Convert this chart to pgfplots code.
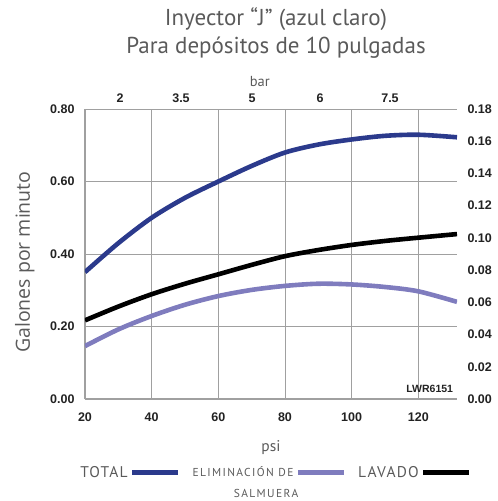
\documentclass[border=0pt]{standalone}
\usepackage{fontspec}
\setmainfont{Liberation Sans}
\newfontfamily\titlefont{PT Sans}
\newfontfamily\legfont[LetterSpace=8]{PT Sans}
\newfontfamily\legfontw[LetterSpace=12]{PT Sans}
\newfontfamily\labfont{Open Sans}
\usepackage{pgfplots}
\pgfplotsset{compat=1.18}
\definecolor{totalc}{HTML}{2B3A8C}
\definecolor{elimc}{HTML}{7F7CBE}
\definecolor{gridc}{HTML}{A0A0A0}
\definecolor{txtc}{HTML}{5A5A5A}
\definecolor{tickc}{HTML}{222222}
\begin{document}
\begin{tikzpicture}[x=1pt,y=1pt]
\path[use as bounding box] (-85,-102) rectangle (413,399);
\begin{axis}[
  at={(0,0)}, anchor=south west,
  scale only axis, width=372pt, height=290pt,
  xmin=20, xmax=131.6, ymin=0, ymax=0.8,
  xtick={20,40,60,80,100,120},
  ytick={0,0.2,0.4,0.6,0.8},
  grid=major, major grid style={gridc, line width=0.9pt},
  axis line style={gridc, line width=1.3pt},
  major tick length=0pt,
  tick label style={font=\fontsize{12.5}{12.5}\selectfont\bfseries, text=tickc},
  /pgf/number format/assume math mode=true,
  yticklabel style={/pgf/number format/fixed, /pgf/number format/fixed zerofill, /pgf/number format/precision=2, xshift=-7pt},
  xticklabel style={yshift=-10pt},
  axis y line*=left, axis x line*=bottom,
  xlabel={\titlefont\fontsize{15.5}{15.5}\selectfont psi},
  xlabel style={text=txtc, at={(axis description cs:0.5,0)}, anchor=north, yshift=-38pt},
  ylabel={\labfont\fontsize{19.5}{19.5}\selectfont Galones por minuto},
  ylabel style={text=txtc, at={(axis description cs:0,0.472)}, anchor=south, yshift=47pt},
  legend columns=3,
  legend plot pos=right,
  legend image code/.code={\draw[#1, line width=4.8pt] (0pt,0pt) -- (46pt,0pt);},
  legend style={draw=none, fill=none, at={(axis description cs:0.5,0)}, anchor=north, yshift=-65pt, xshift=4pt,
     inner sep=0pt, text=txtc,
     nodes={inner sep=2pt},
     /tikz/every even column/.append style={column sep=10pt}},
]
\addplot[totalc, line width=4.6pt, smooth] coordinates {
(20,0.350) (30,0.430) (40,0.500) (50,0.555) (60,0.600) (70,0.643) (80,0.680) (90,0.702) (100,0.716) (110,0.726) (120,0.729) (131.6,0.722)};
\addlegendentry{\legfont\fontsize{15.5}{15.5}\selectfont TOTAL}
\addplot[elimc, line width=4.6pt, smooth] coordinates {
(20,0.146) (30,0.192) (40,0.229) (50,0.260) (60,0.284) (70,0.301) (80,0.312) (90,0.318) (100,0.316) (110,0.309) (120,0.297) (131.6,0.268)};
\addlegendentry{\legfontw\fontsize{11.5}{11.5}\selectfont ELIMINACIÓN DE}
\addplot[black, line width=4.6pt, smooth] coordinates {
(20,0.217) (30,0.255) (40,0.289) (50,0.318) (60,0.344) (70,0.370) (80,0.394) (90,0.411) (100,0.425) (110,0.436) (120,0.445) (131.6,0.455)};
\addlegendentry{\legfont\fontsize{15.5}{15.5}\selectfont LAVADO}
\node[font=\fontsize{10.5}{10.5}\selectfont\bfseries, text=tickc, anchor=south east, inner sep=0pt] at (rel axis cs:0.99,0.022) {LWR6151};
\end{axis}
% right axis (m3/h)
\begin{axis}[
  at={(0,0)}, anchor=south west,
  scale only axis, width=372pt, height=290pt,
  xmin=20, xmax=131.6, ymin=0, ymax=0.18,
  ytick={0,0.02,...,0.18},
  axis y line*=right, axis x line=none,
  axis line style={draw=none},
  major tick length=0pt,
  tick label style={font=\fontsize{12.5}{12.5}\selectfont\bfseries, text=tickc},
  /pgf/number format/assume math mode=true,
  yticklabel style={/pgf/number format/fixed, /pgf/number format/fixed zerofill, /pgf/number format/precision=2, xshift=7pt},
]
\addplot[draw=none] coordinates {(20,0) (131.6,0.18)};
\node[font=\titlefont\fontsize{12}{12}\selectfont, text=txtc, anchor=base] at (rel axis cs:1.05,1.06) {m\textsuperscript{3}/h};
\end{axis}
% top axis (bar)
\begin{axis}[
  at={(0,0)}, anchor=south west,
  scale only axis, width=372pt, height=290pt,
  xmin=20, xmax=131.6, ymin=0, ymax=0.8,
  axis x line*=top, axis y line=none,
  axis line style={draw=none},
  major tick length=0pt,
  xtick={30.5,48.8,70.1,90.5,111.5},
  xticklabels={2,3.5,5,6,7.5},
  tick label style={font=\fontsize{12.5}{12.5}\selectfont\bfseries, text=tickc},
  xticklabel style={yshift=3pt},
  xlabel={\titlefont\fontsize{14.5}{14.5}\selectfont bar},
  xlabel style={text=txtc, at={(axis description cs:0.47,1)}, anchor=south, yshift=19pt},
]
\addplot[draw=none] coordinates {(20,0) (131.6,0.8)};
\end{axis}
\node[font=\titlefont\fontsize{23}{23}\selectfont, text=txtc, anchor=base] at (191,373) {Inyector “J” (azul claro)};
\node[font=\titlefont\fontsize{23}{23}\selectfont, text=txtc, anchor=base] at (191,345) {Para depósitos de 10 pulgadas};
\node[font=\legfontw\fontsize{11.5}{11.5}\selectfont, text=txtc, anchor=base] at (181,-98) {SALMUERA};
\end{tikzpicture}
\end{document}
